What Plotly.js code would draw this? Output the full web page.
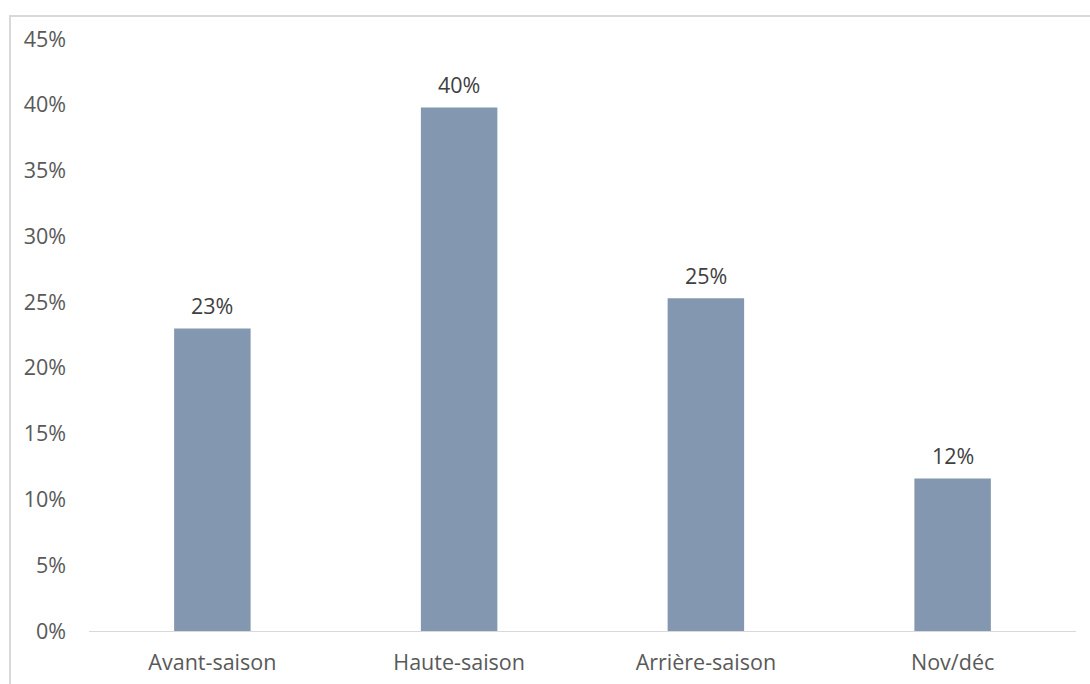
<!DOCTYPE html>
<html>
<head>
<meta charset="utf-8">
<script src="https://cdn.plot.ly/plotly-3.0.1.min.js"></script>
<style>
html,body{margin:0;padding:0;background:#fff;}
#chart{position:absolute;left:0;top:0;width:1090px;height:684px;}
#frame{position:absolute;left:9px;top:15px;width:1200px;height:800px;border-left:2px solid #d9d9d9;border-top:2px solid #d9d9d9;pointer-events:none;}
</style>
</head>
<body>
<div id="chart"></div>
<div id="frame"></div>
<script>
const categories = ["Avant-saison", "Haute-saison", "Arrière-saison", "Nov/déc"];
const values = [23.0, 39.8, 25.3, 11.6];
const tickVals = [0, 5, 10, 15, 20, 25, 30, 35, 40, 45];
const tickText = ["0%", "5%", "10%", "15%", "20%", "25%", "30%", "35%", "40%", "45%"];

const font = "Open Sans, Segoe UI, sans-serif";
const fs = 21.5;

const annotations = categories.map((c, i) => ({
  x: c,
  y: values[i],
  xref: "x",
  yref: "y",
  text: Math.round(values[i]) + "%",
  showarrow: false,
  yanchor: "bottom",
  yshift: 6,
  font: {family: font, size: fs, color: "#404040"}
}));

Plotly.newPlot("chart", [{
  type: "bar",
  x: categories,
  y: values,
  marker: {color: "#8497B0"},
  hoverinfo: "skip"
}], {
  width: 1090,
  height: 684,
  margin: {l: 89, r: 14, t: 39, b: 53, pad: 0},
  paper_bgcolor: "#fff",
  plot_bgcolor: "#fff",
  bargap: 0.69,
  showlegend: false,
  annotations: annotations,
  font: {family: font, size: fs, color: "#595959"},
  xaxis: {
    type: "category",
    showline: true,
    linecolor: "#d9d9d9",
    linewidth: 1,
    showgrid: false,
    zeroline: false,
    ticks: "",
    ticklabelstandoff: 12,
    tickfont: {family: font, size: fs, color: "#595959"}
  },
  yaxis: {
    range: [0, 45],
    tickvals: tickVals,
    ticktext: tickText,
    showgrid: false,
    zeroline: false,
    showline: false,
    ticks: "",
    ticklabelstandoff: 22,
    tickfont: {family: font, size: fs, color: "#595959"}
  }
}, {displayModeBar: false, staticPlot: true});
</script>
</body>
</html>
